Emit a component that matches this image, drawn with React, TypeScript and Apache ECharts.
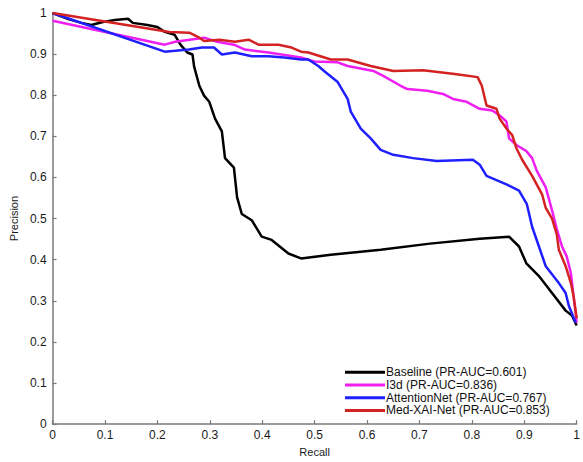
import React, { useEffect, useRef } from "react";
import * as echarts from "echarts";

const seriesNames = [
  "Baseline (PR-AUC=0.601)",
  "I3d (PR-AUC=0.836)",
  "AttentionNet (PR-AUC=0.767)",
  "Med-XAI-Net (PR-AUC=0.853)",
];
const seriesColors = ["#000000", "#ee1ff0", "#1f1fff", "#d42222"];

const baselineRecall = [0, 0.03, 0.055, 0.074, 0.096, 0.119, 0.144, 0.153, 0.181, 0.2, 0.214, 0.233, 0.244, 0.257, 0.267, 0.27, 0.28, 0.289, 0.299, 0.31, 0.323, 0.329, 0.346, 0.352, 0.361, 0.38, 0.399, 0.418, 0.45, 0.474, 0.531, 0.626, 0.72, 0.815, 0.871, 0.89, 0.904, 0.928, 0.953, 0.979, 0.991, 1.0];
const baselinePrecision = [1.0, 0.985, 0.976, 0.971, 0.978, 0.983, 0.986, 0.976, 0.971, 0.966, 0.954, 0.947, 0.923, 0.904, 0.899, 0.87, 0.823, 0.799, 0.784, 0.743, 0.712, 0.647, 0.624, 0.552, 0.511, 0.496, 0.456, 0.448, 0.415, 0.403, 0.412, 0.424, 0.439, 0.451, 0.456, 0.432, 0.391, 0.36, 0.319, 0.276, 0.264, 0.24];

const i3dRecall = [0, 0.214, 0.234, 0.289, 0.314, 0.346, 0.367, 0.412, 0.437, 0.474, 0.499, 0.544, 0.563, 0.612, 0.631, 0.664, 0.677, 0.715, 0.745, 0.764, 0.79, 0.815, 0.839, 0.853, 0.866, 0.871, 0.885, 0.904, 0.915, 0.924, 0.941, 0.953, 0.962, 0.972, 0.981, 0.989, 0.994, 0.998, 1.0];
const i3dPrecision = [0.981, 0.923, 0.93, 0.94, 0.93, 0.923, 0.911, 0.904, 0.899, 0.892, 0.882, 0.88, 0.871, 0.859, 0.847, 0.823, 0.815, 0.811, 0.803, 0.791, 0.784, 0.767, 0.763, 0.751, 0.736, 0.695, 0.679, 0.664, 0.647, 0.616, 0.576, 0.52, 0.475, 0.432, 0.408, 0.367, 0.312, 0.271, 0.247];

const attnRecall = [0, 0.214, 0.234, 0.26, 0.285, 0.308, 0.323, 0.348, 0.38, 0.412, 0.442, 0.474, 0.488, 0.507, 0.518, 0.544, 0.563, 0.569, 0.588, 0.607, 0.626, 0.65, 0.688, 0.733, 0.802, 0.815, 0.828, 0.866, 0.89, 0.905, 0.915, 0.928, 0.941, 0.966, 0.979, 0.985, 0.998];
const attnPrecision = [1.0, 0.906, 0.908, 0.911, 0.916, 0.916, 0.899, 0.904, 0.895, 0.895, 0.892, 0.887, 0.887, 0.871, 0.859, 0.832, 0.791, 0.76, 0.719, 0.695, 0.667, 0.655, 0.647, 0.64, 0.643, 0.631, 0.604, 0.583, 0.568, 0.535, 0.48, 0.432, 0.384, 0.343, 0.319, 0.288, 0.247];

const medRecall = [0, 0.223, 0.261, 0.28, 0.289, 0.318, 0.348, 0.374, 0.393, 0.431, 0.456, 0.474, 0.488, 0.531, 0.563, 0.607, 0.65, 0.707, 0.739, 0.771, 0.811, 0.819, 0.828, 0.847, 0.853, 0.866, 0.877, 0.885, 0.896, 0.915, 0.934, 0.941, 0.953, 0.962, 0.966, 0.979, 0.989, 0.994, 1.0];
const medPrecision = [1.0, 0.954, 0.952, 0.94, 0.932, 0.935, 0.93, 0.935, 0.923, 0.923, 0.916, 0.906, 0.904, 0.887, 0.887, 0.871, 0.859, 0.861, 0.856, 0.851, 0.844, 0.823, 0.775, 0.767, 0.743, 0.719, 0.703, 0.671, 0.643, 0.604, 0.559, 0.526, 0.5, 0.462, 0.424, 0.384, 0.343, 0.312, 0.257];

const recallSets = [baselineRecall, i3dRecall, attnRecall, medRecall];
const precisionSets = [baselinePrecision, i3dPrecision, attnPrecision, medPrecision];

const FONT = "Liberation Sans, Arial, Helvetica, sans-serif";

export default function App() {
  const ref = useRef<HTMLDivElement>(null);
  useEffect(() => {
    if (!ref.current) return;
    const chart = echarts.init(ref.current, undefined, { renderer: "svg" });
    const axisCommon = {
      type: "value" as const,
      min: 0,
      max: 1,
      interval: 0.1,
      splitLine: { show: false },
      axisLine: { show: true, onZero: false, lineStyle: { color: "#7a7a7a", width: 1.5 } },
      axisTick: { show: true, inside: true, length: 4, lineStyle: { color: "#7a7a7a", width: 1.2 } },
      axisLabel: { color: "#1a1a1a", fontSize: 12, fontFamily: FONT },
      nameLocation: "middle" as const,
      nameTextStyle: { color: "#1a1a1a", fontSize: 11, fontFamily: FONT },
    };
    chart.setOption({
      animation: false,
      backgroundColor: "#ffffff",
      grid: { left: 49, right: 5, top: 13, bottom: 32, containLabel: false },
      xAxis: { ...axisCommon, name: "Recall", nameGap: 17, axisLabel: { ...axisCommon.axisLabel, margin: 5 } },
      yAxis: { ...axisCommon, name: "Precision", nameGap: 29, axisLabel: { ...axisCommon.axisLabel, margin: 6 } },
      legend: {
        orient: "vertical",
        left: 340,
        top: 361,
        icon: "rect",
        itemWidth: 40,
        itemHeight: 3,
        itemGap: 0,
        textStyle: { color: "#111", fontSize: 12, fontFamily: FONT, lineHeight: 12.7, padding: [0, 0, 0, -4] },
        data: seriesNames,
      },
      series: seriesNames.map((name, i) => ({
        name,
        type: "line",
        symbol: "none",
        showSymbol: false,
        color: seriesColors[i],
        lineStyle: { color: seriesColors[i], width: 2.5 },
        data: recallSets[i].map((r, j) => [r, precisionSets[i][j]]),
        z: 2 + i,
      })),
    });
    return () => chart.dispose();
  }, []);
  return <div ref={ref} style={{ width: 583, height: 462, position: "absolute", left: 0, top: 0 }} />;
}
